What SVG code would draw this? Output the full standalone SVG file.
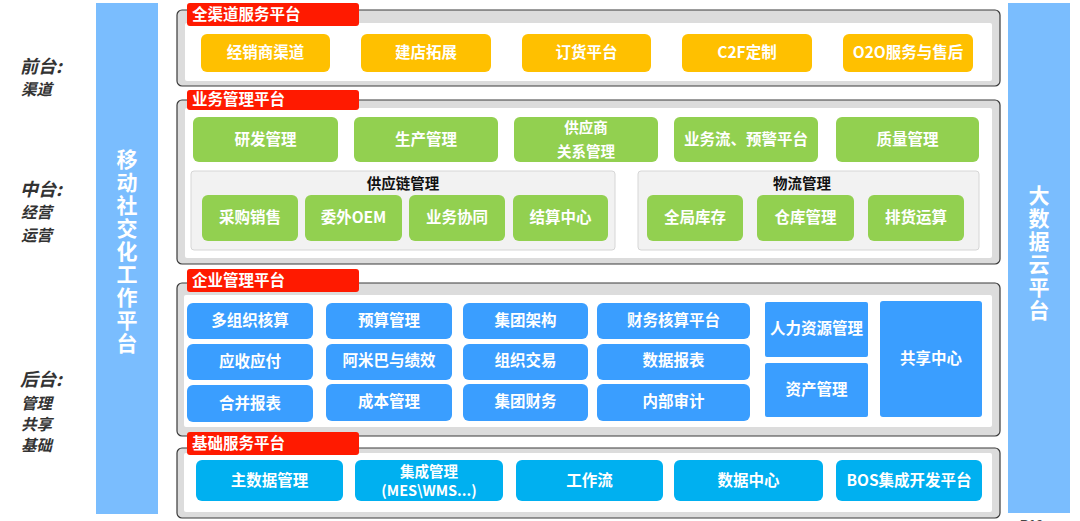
<svg xmlns="http://www.w3.org/2000/svg" width="1080" height="521" viewBox="0 0 1080 521">
<style>
text{font-family:"Noto Sans CJK SC","Noto Sans",sans-serif;font-weight:bold}
.panel{fill:#DCDCDC;stroke:#3A3A3A;stroke-width:1.2}
.inner{fill:#FFFFFF}
.tag{fill:#FF1A00}
.tagt{fill:#FFFFFF;font-size:15.5px}
.or{fill:#FFC000}
.gr{fill:#92D050}
.bl{fill:#3A9EFF}
.cy{fill:#00B0F0}
.sub{fill:#F2F2F2;stroke:#D6D6D6;stroke-width:1}
.bt{fill:#FFFFFF;font-size:15.5px;text-anchor:middle}
.bt2{fill:#FFFFFF;font-size:14.5px;text-anchor:middle}
.st{fill:#111111;font-size:14.5px;text-anchor:middle}
.side{fill:#7ABDFE}
.vt{fill:#FFFFFF;font-size:21px;writing-mode:vertical-rl;text-anchor:start;letter-spacing:2px}
.lbig{fill:#333333;font-size:18px;font-style:italic}
.lsm{fill:#333333;font-size:15.5px;font-style:italic}
</style>

<g id="left-labels">
<text class="lbig" x="20" y="73">前台:</text>
<text class="lsm" x="21" y="95">渠道</text>
<text class="lbig" x="20" y="196">中台:</text>
<text class="lsm" x="21" y="218">经营</text>
<text class="lsm" x="21" y="241">运营</text>
<text class="lbig" x="20" y="386">后台:</text>
<text class="lsm" x="21" y="409">管理</text>
<text class="lsm" x="21" y="430">共享</text>
<text class="lsm" x="21" y="451">基础</text>
</g>

<g id="mobile-platform">
<rect class="side" x="96" y="3" width="62" height="511"/>
<text class="vt" x="127" y="149" letter-spacing="2.4">移动社交化工作平台</text>
</g>

<g id="bigdata-platform">
<rect class="side" x="1008" y="3" width="62" height="510"/>
<text class="vt" x="1039" y="185">大数据云平台</text>
</g>

<g id="channel-platform">
<rect class="panel" x="177" y="10" width="823" height="76" rx="5"/>
<rect class="inner" x="185" y="23" width="807" height="58" rx="2"/>
<rect class="tag" x="187" y="3" width="172" height="23" rx="3"/>
<text class="tagt" x="192" y="20">全渠道服务平台</text>
<g id="n-jxs"><rect class="or" x="201" y="34" width="129" height="38" rx="6"/><text class="bt" x="265.5" y="58">经销商渠道</text></g>
<g id="n-jdtz"><rect class="or" x="361" y="34" width="130" height="38" rx="6"/><text class="bt" x="426" y="58">建店拓展</text></g>
<g id="n-dhpt"><rect class="or" x="522" y="34" width="129" height="38" rx="6"/><text class="bt" x="586.5" y="58">订货平台</text></g>
<g id="n-c2f"><rect class="or" x="682" y="34" width="130" height="38" rx="6"/><text class="bt" x="747" y="58">C2F定制</text></g>
<g id="n-o2o"><rect class="or" x="843" y="34" width="130" height="38" rx="6"/><text class="bt" x="908" y="58">O2O服务与售后</text></g>
</g>

<g id="business-platform">
<rect class="panel" x="177" y="100" width="823" height="164" rx="5"/>
<rect class="inner" x="185" y="108" width="807" height="150" rx="2"/>
<rect class="tag" x="187" y="90" width="172" height="20" rx="3"/>
<text class="tagt" x="192" y="105">业务管理平台</text>
<g id="n-yfgl"><rect class="gr" x="193" y="117" width="145" height="45" rx="6"/><text class="bt" x="265.5" y="145">研发管理</text></g>
<g id="n-scgl"><rect class="gr" x="354" y="117" width="144" height="45" rx="6"/><text class="bt" x="426" y="145">生产管理</text></g>
<g id="n-gys"><rect class="gr" x="514" y="117" width="144" height="45" rx="6"/><text class="bt2" x="586" y="133">供应商</text><text class="bt2" x="586" y="157">关系管理</text></g>
<g id="n-ywl"><rect class="gr" x="674" y="117" width="144" height="45" rx="6"/><text class="bt" x="746" y="145">业务流、预警平台</text></g>
<g id="n-zlgl"><rect class="gr" x="836" y="117" width="143" height="45" rx="6"/><text class="bt" x="907.5" y="145">质量管理</text></g>
<g id="supply-chain">
<rect class="sub" x="191" y="171" width="424" height="79" rx="3"/>
<text class="st" x="403" y="189">供应链管理</text>
<g id="n-cgxs"><rect class="gr" x="202" y="195" width="96" height="46" rx="6"/><text class="bt" x="250" y="223">采购销售</text></g>
<g id="n-oem"><rect class="gr" x="305" y="195" width="97" height="46" rx="6"/><text class="bt" x="353.5" y="223">委外OEM</text></g>
<g id="n-ywxt"><rect class="gr" x="409" y="195" width="96" height="46" rx="6"/><text class="bt" x="457" y="223">业务协同</text></g>
<g id="n-jszx"><rect class="gr" x="513" y="195" width="95" height="46" rx="6"/><text class="bt" x="560.5" y="223">结算中心</text></g>
</g>
<g id="logistics">
<rect class="sub" x="638" y="171" width="341" height="79" rx="3"/>
<text class="st" x="802" y="189">物流管理</text>
<g id="n-qjkc"><rect class="gr" x="647" y="195" width="96" height="46" rx="6"/><text class="bt" x="695" y="223">全局库存</text></g>
<g id="n-ckgl"><rect class="gr" x="757" y="195" width="97" height="46" rx="6"/><text class="bt" x="805.5" y="223">仓库管理</text></g>
<g id="n-phys"><rect class="gr" x="868" y="195" width="96" height="46" rx="6"/><text class="bt" x="916" y="223">排货运算</text></g>
</g>
</g>

<g id="enterprise-platform">
<rect class="panel" x="177" y="283" width="823" height="153" rx="5"/>
<rect class="inner" x="184" y="295" width="808" height="132" rx="2"/>
<rect class="tag" x="187" y="269" width="172" height="23" rx="3"/>
<text class="tagt" x="192" y="286">企业管理平台</text>
<g id="n-dzz"><rect class="bl" x="187" y="303" width="126" height="36" rx="6"/><text class="bt" x="250" y="326">多组织核算</text></g>
<g id="n-ysgl"><rect class="bl" x="326" y="303" width="126" height="36" rx="6"/><text class="bt" x="389" y="326">预算管理</text></g>
<g id="n-jtjg"><rect class="bl" x="463" y="303" width="125" height="36" rx="6"/><text class="bt" x="525.5" y="326">集团架构</text></g>
<g id="n-cwhs"><rect class="bl" x="597" y="303" width="153" height="36" rx="6"/><text class="bt" x="673.5" y="326">财务核算平台</text></g>
<g id="n-yszf"><rect class="bl" x="187" y="344" width="126" height="36" rx="6"/><text class="bt" x="250" y="367">应收应付</text></g>
<g id="n-amb"><rect class="bl" x="326" y="344" width="126" height="36" rx="6"/><text class="bt" x="389" y="366">阿米巴与绩效</text></g>
<g id="n-zzjy"><rect class="bl" x="463" y="344" width="125" height="36" rx="6"/><text class="bt" x="525.5" y="366">组织交易</text></g>
<g id="n-sjbb"><rect class="bl" x="597" y="344" width="153" height="36" rx="6"/><text class="bt" x="673.5" y="366">数据报表</text></g>
<g id="n-hbbb"><rect class="bl" x="187" y="385" width="126" height="37" rx="6"/><text class="bt" x="250" y="409">合并报表</text></g>
<g id="n-cbgl"><rect class="bl" x="326" y="384" width="126" height="37" rx="6"/><text class="bt" x="389" y="407">成本管理</text></g>
<g id="n-jtcw"><rect class="bl" x="463" y="384" width="125" height="37" rx="6"/><text class="bt" x="525.5" y="407">集团财务</text></g>
<g id="n-nbsj"><rect class="bl" x="597" y="384" width="153" height="37" rx="6"/><text class="bt" x="673.5" y="407">内部审计</text></g>
<g id="n-rlzy"><rect class="bl" x="765" y="302" width="103" height="55" rx="2"/><text class="bt" x="816.5" y="334">人力资源管理</text></g>
<g id="n-zcgl"><rect class="bl" x="765" y="363" width="103" height="54" rx="2"/><text class="bt" x="816.5" y="395">资产管理</text></g>
<g id="n-gxzx"><rect class="bl" x="880" y="301" width="102" height="116" rx="3"/><text class="bt" x="931" y="364">共享中心</text></g>
</g>

<g id="base-platform">
<rect class="panel" x="177" y="448" width="823" height="70" rx="5"/>
<rect class="inner" x="184" y="453" width="808" height="59" rx="2"/>
<rect class="tag" x="187" y="432" width="172" height="23" rx="3"/>
<text class="tagt" x="192" y="449">基础服务平台</text>
<g id="n-zsj"><rect class="cy" x="196" y="460" width="147" height="41" rx="6"/><text class="bt" x="269.5" y="486">主数据管理</text></g>
<g id="n-jcgl"><rect class="cy" x="355" y="460" width="148" height="41" rx="6"/><text class="bt2" x="429" y="477">集成管理</text><text class="bt2" x="429" y="496">(MES\WMS...)</text></g>
<g id="n-gzl"><rect class="cy" x="516" y="460" width="147" height="41" rx="6"/><text class="bt" x="589.5" y="486">工作流</text></g>
<g id="n-sjzx"><rect class="cy" x="674" y="460" width="149" height="41" rx="6"/><text class="bt" x="748.5" y="486">数据中心</text></g>
<g id="n-bos"><rect class="cy" x="836" y="460" width="146" height="41" rx="6"/><text class="bt" x="909" y="486">BOS集成开发平台</text></g>
</g>

<text x="1020" y="529" style="fill:#444444;font-size:13px;font-family:'Liberation Sans',sans-serif">P10</text>

<g id="connectors"></g>
</svg>
